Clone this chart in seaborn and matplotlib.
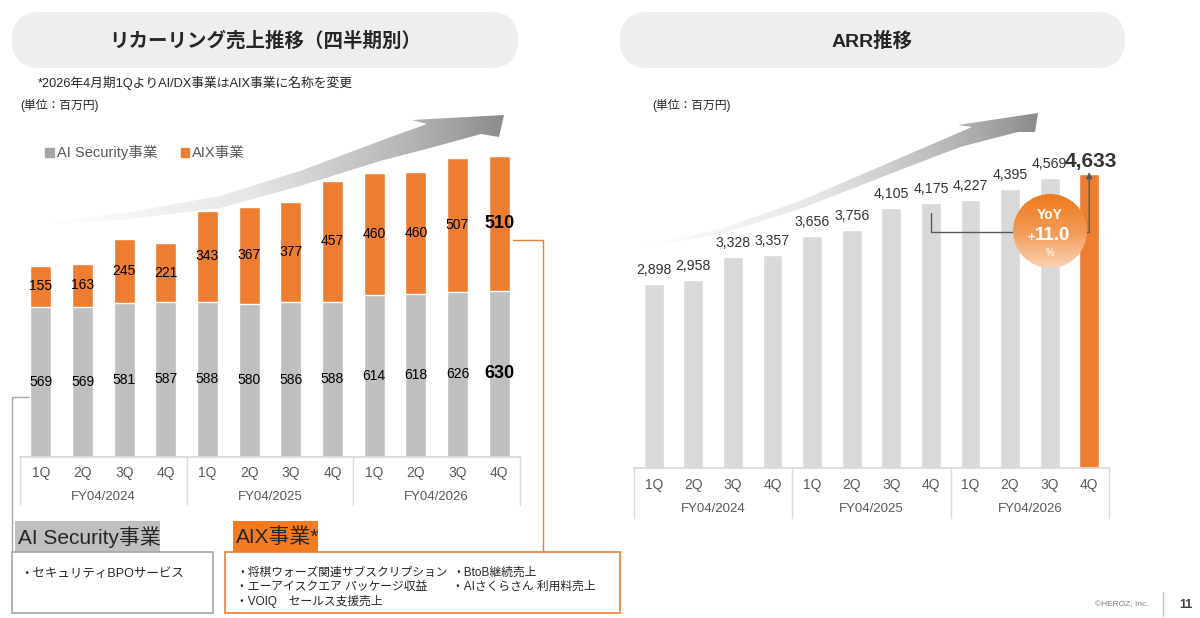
import numpy as np
import pandas as pd
import matplotlib
matplotlib.use("Agg")
import matplotlib.pyplot as plt
import seaborn as sns
from matplotlib.patches import FancyBboxPatch, Rectangle, Polygon, Circle, Patch
from matplotlib.colors import LinearSegmentedColormap

# -------- data --------
quarters = ["1Q", "2Q", "3Q", "4Q"] * 3
fiscal_years = ["FY04/2024", "FY04/2025", "FY04/2026"]
security = [569, 569, 581, 587, 588, 580, 586, 588, 614, 618, 626, 630]
aix = [155, 163, 245, 221, 343, 367, 377, 457, 460, 460, 507, 510]
arr = [2898, 2958, 3328, 3357, 3656, 3756, 4105, 4175, 4227, 4395, 4569, 4633]
yoy_pct = 11.0

periods = [f"{fy} {q}" for fy in fiscal_years for q in ["1Q", "2Q", "3Q", "4Q"]]
df = pd.DataFrame({"period": periods, "security": security, "aix": aix, "arr": arr})
df["total"] = df["security"] + df["aix"]

GRAY_L = "#BFBFBF"
GRAY_R = "#D9D9D9"
ORANGE = "#ED7D31"
TXT = "#262626"
MUTED = "#595959"

sns.set_theme(style="white")
plt.rcParams["font.family"] = ["Liberation Sans", "Noto Sans CJK JP", "DejaVu Sans"]

W, H = 1200, 618
fig = plt.figure(figsize=(12, 6.18), dpi=100)


def box(l, t, r, b):
    # pixel box -> figure fraction rect
    return [l / W, 1 - b / H, (r - l) / W, (b - t) / H]


# -------- background layer (pixel coords) --------
bg = fig.add_axes([0, 0, 1, 1], zorder=0)

for l, r, title in [(12, 518, "リカーリング売上推移（四半期別）"), (620, 1125, "ARR推移")]:
    bg.add_patch(FancyBboxPatch((l, 12), r - l, 56, boxstyle="round,pad=0,rounding_size=28",
                                fc="#EEEEEE", ec="none"))
    bg.text((l + r) / 2, 41, title, ha="center", va="center", fontsize=14,
            fontweight="bold", color=TXT)

bg.text(38, 83, "*2026年4月期1QよりAI/DX事業はAIX事業に名称を変更", fontsize=9.2,
        color=TXT, va="center")
bg.text(20, 105, "(単位：百万円)", fontsize=8.5, color=TXT, va="center")
bg.text(652, 105, "(単位：百万円)", fontsize=8.5, color=TXT, va="center")

# gradient growth arrows
cmap_arrow = LinearSegmentedColormap.from_list(
    "arrow", [(0, "#FFFFFF"), (0.45, "#E6E6E6"), (0.8, "#B4B4B4"), (1, "#8C8C8C")])


def grad_arrow(pts):
    pts = np.array(pts, dtype=float)
    poly = Polygon(pts, closed=True, fc="none", ec="none")
    bg.add_patch(poly)
    x0, x1 = pts[:, 0].min(), pts[:, 0].max()
    y0, y1 = pts[:, 1].min(), pts[:, 1].max()
    im = bg.imshow(np.linspace(0, 1, 256).reshape(1, -1), cmap=cmap_arrow,
                   extent=(x0, x1, y1, y0), aspect="auto", zorder=1)
    im.set_clip_path(poly)


grad_arrow([(45, 223), (130, 212), (220, 196), (300, 171), (380, 141), (427, 124),
            (412, 120), (504, 115), (499, 137), (481, 134), (430, 148), (380, 161),
            (300, 186), (220, 208), (130, 219), (45, 225)])
grad_arrow([(643, 246), (720, 229), (800, 201), (900, 158), (972, 127), (958, 125),
            (1038, 113), (1035, 132), (1018, 132), (960, 147), (900, 170), (800, 209),
            (720, 234), (643, 248)])

# bottom description boxes
bg.add_patch(Rectangle((15, 521), 145, 31, fc=GRAY_L, ec="none"))
bg.text(18, 537, "AI Security事業", fontsize=15, color=TXT, va="center")
bg.add_patch(Rectangle((12, 552), 201, 61, fc="white", ec="#A6A6A6", lw=1.2))
bg.text(20, 574, "・セキュリティBPOサービス", fontsize=9, color=TXT, va="center")

bg.add_patch(Rectangle((233, 521), 85, 31, fc="#F47B20", ec="none"))
bg.text(236, 537, "AIX事業*", fontsize=15, color=TXT, va="center")
bg.add_patch(Rectangle((225, 552), 395, 61, fc="white", ec=ORANGE, lw=1.2))
bg.text(236, 573, "・将棋ウォーズ関連サブスクリプション", fontsize=8.5, color=TXT, va="center")
bg.text(236, 587, "・エーアイスクエア パッケージ収益", fontsize=8.5, color=TXT, va="center")
bg.text(236, 601, "・VOIQ　セールス支援売上", fontsize=8.5, color=TXT, va="center")
bg.text(452, 573, "・BtoB継続売上", fontsize=8.5, color=TXT, va="center")
bg.text(452, 587, "・AIさくらさん 利用料売上", fontsize=8.5, color=TXT, va="center")

# connectors
bg.plot([30, 12, 12], [397, 397, 552], color="#A6A6A6", lw=1)
bg.plot([513, 543, 543], [240, 240, 552], color=ORANGE, lw=1)

# footer
bg.text(1122, 605, "©HEROZ, Inc.", fontsize=6, color="#7F7F7F", ha="center", va="center")
bg.plot([1163, 1163], [592, 616], color="#BFBFBF", lw=1)
bg.text(1186, 605, "11", fontsize=9, fontweight="bold", color="#404040", ha="center", va="center")

bg.set_xlim(0, W)
bg.set_ylim(H, 0)
bg.axis("off")


def category_table(ax, depth_px, q_pad, fy_px):
    ax.set_xticks(range(len(quarters)))
    ax.set_xticklabels(quarters)
    ax.tick_params(axis="x", length=0, pad=q_pad, labelsize=10, labelcolor=MUTED)
    ax.set_xlabel("")
    ax.set_ylabel("")
    ax.set_yticks([])
    ax.set_xlim(-0.5, len(quarters) - 0.5)
    sns.despine(ax=ax, left=True)
    ax.spines["bottom"].set_color(GRAY_R)
    ax.patch.set_alpha(0)
    tr = ax.get_xaxis_transform()
    hpx = ax.get_position().height * H
    for xs in [-0.5, 3.5, 7.5, 11.5]:
        ax.plot([xs, xs], [0, -depth_px / hpx], color=GRAY_R, lw=1, transform=tr, clip_on=False)
    for k, fy in enumerate(fiscal_years):
        ax.annotate(fy, xy=(4 * k + 1.5, 0), xycoords=tr, xytext=(0, -fy_px * 0.72),
                    textcoords="offset points", ha="center", va="center",
                    fontsize=9.5, color=MUTED)


# -------- left: recurring revenue (stacked) --------
ax1 = fig.add_axes(box(20, 87, 520, 457), zorder=2)
sns.barplot(data=df, x="period", y="total", color=ORANGE, saturation=1, width=0.5, ax=ax1)
sns.barplot(data=df, x="period", y="security", color=GRAY_L, saturation=1, width=0.5, ax=ax1)
ax1.set_ylim(0, 1400)
category_table(ax1, 48, 6.5, 40)

n = len(df)
for i, (s, a) in enumerate(zip(security, aix)):
    last = i == n - 1
    kw = dict(ha="center", va="center", color="black",
              fontsize=13 if last else 10, fontweight="bold" if last else "normal")
    ax1.text(i, s / 2, f"{s}", **kw)
    ax1.text(i, s + a / 2, f"{a}", **kw)

fig.legend([Patch(color="#A6A6A6"), Patch(color=ORANGE)], ["AI Security事業", "AIX事業"],
           loc="center left", bbox_to_anchor=(32 / W, 1 - 153 / H), ncol=2, frameon=False,
           fontsize=10.5, handlelength=0.6, handleheight=0.6, handletextpad=0.2,
           columnspacing=1.6, labelcolor=MUTED)

# -------- right: ARR --------
ax2 = fig.add_axes(box(634, 119, 1109, 468), zorder=2)
bar_colors = [GRAY_R] * (n - 1) + [ORANGE]
sns.barplot(data=df, x="period", y="arr", hue="period", palette=bar_colors, legend=False,
            saturation=1, width=0.5, ax=ax2)
ax2.set_ylim(0, 5500)
category_table(ax2, 50, 7, 41)

for i, v in enumerate(arr):
    last = i == n - 1
    ax2.annotate(f"{v:,}", xy=(i, v), xytext=(1 if last else 0, 2 if last else 5),
                 textcoords="offset points", ha="center", va="bottom", color="#333333",
                 fontsize=15 if last else 10.2, fontweight="bold" if last else "normal")

# YoY bracket: from FY04/2025 4Q to FY04/2026 4Q
bracket_y = 3720
ax2.plot([n - 5, n - 5, n - 1], [arr[n - 5] - 160, bracket_y, bracket_y], color=MUTED, lw=1)
ax2.annotate("", xy=(n - 1, arr[-1] + 30), xytext=(n - 1, bracket_y),
             arrowprops=dict(arrowstyle="-|>", color=MUTED, lw=1, mutation_scale=9,
                             shrinkA=0, shrinkB=0))

# -------- foreground: YoY badge --------
fg = fig.add_axes([0, 0, 1, 1], zorder=3)
circ = Circle((1050, 231), 37, fc="none", ec="none")
fg.add_patch(circ)
cmap_c = LinearSegmentedColormap.from_list("badge", ["#EE7A1E", "#F29A55", "#FAD3B5"])
im = fg.imshow(np.linspace(0, 1, 256).reshape(-1, 1), cmap=cmap_c,
               extent=(1013, 1087, 268, 194), aspect="auto")
im.set_clip_path(circ)
fg.text(1050, 215, "YoY", color="white", fontsize=10, fontweight="bold", ha="center", va="center")
fg.text(1031, 238, "+", color="white", fontsize=9, fontweight="bold", ha="center", va="center")
fg.text(1053, 236, f"{yoy_pct:.1f}", color="white", fontsize=13.5, fontweight="bold",
        ha="center", va="center")
fg.text(1050, 253, "%", color="white", fontsize=7, ha="center", va="center")
fg.set_xlim(0, W)
fg.set_ylim(H, 0)
fg.axis("off")
fg.patch.set_alpha(0)

fig.savefig("out.png", dpi=100)
